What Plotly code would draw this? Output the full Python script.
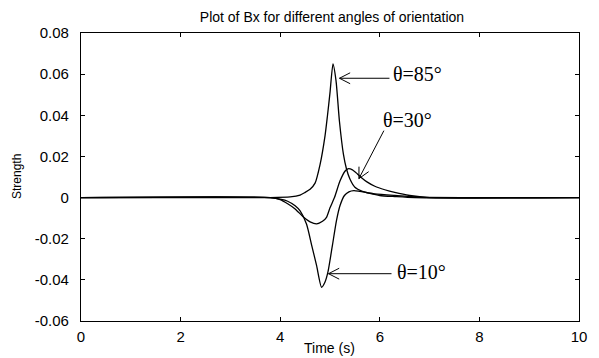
import math
import plotly.graph_objects as go

# ---- data ----
t85 = [0, 3.8, 4.2, 4.4, 4.5, 4.6, 4.7, 4.8, 4.9, 4.95, 5.0, 5.06, 5.12, 5.19, 5.27, 5.33, 5.4, 5.5, 5.65, 5.8, 6.0, 6.3, 6.7, 10]
b85 = [0, 0, 0.0003, 0.0012, 0.0025, 0.004, 0.007, 0.016, 0.03, 0.04, 0.051, 0.065, 0.057, 0.037, 0.021, 0.014, 0.009, 0.005, 0.003, 0.002, 0.001, 0.0005, 0.0, 0]

t30 = [0, 3.8, 4.0, 4.15, 4.3, 4.47, 4.6, 4.73, 4.85, 4.93, 5.0, 5.09, 5.2, 5.3, 5.36, 5.45, 5.55, 5.62, 5.75, 5.9, 6.1, 6.3, 6.6, 7.0, 10]
b30 = [0, 0, -0.001, -0.003, -0.0055, -0.0096, -0.0118, -0.0128, -0.0115, -0.0096, -0.005, 0.0, 0.008, 0.0128, 0.014, 0.0135, 0.0115, 0.0099, 0.0075, 0.0055, 0.0038, 0.0025, 0.001, 0.0, 0]

t10 = [0, 3.8, 4.0, 4.15, 4.3, 4.4, 4.53, 4.63, 4.73, 4.83, 4.9, 4.96, 5.05, 5.13, 5.2, 5.29, 5.38, 5.48, 5.6, 5.9, 6.3, 6.8, 10]
b10 = [0, 0, -0.0008, -0.0018, -0.004, -0.0065, -0.013, -0.023, -0.033, -0.0436, -0.041, -0.036, -0.023, -0.0112, -0.004, 0.001, 0.0028, 0.0034, 0.003, 0.0018, 0.001, 0.0002, 0]

x_ticks = [0, 2, 4, 6, 8, 10]
x_ticktext = ["0", "2", "4", "6", "8", "10"]
y_ticks = [-0.06, -0.04, -0.02, 0, 0.02, 0.04, 0.06, 0.08]
y_ticktext = ["-0.06", "-0.04", "-0.02", "0", "0.02", "0.04", "0.06", "0.08"]

labels = ["θ=85°", "θ=30°", "θ=10°"]
# arrow tip (data), tail offset (pixels, y up), label position (data)
arrow_tips = [(5.19, 0.058), (5.58, 0.0092), (4.97, -0.037)]
arrow_tails = [(50, 0), (25, 48), (63, 0)]
label_pos = [(6.22, 0.0603), (6.03, 0.0375), (6.31, -0.036)]

fig = go.Figure()
for t, b in [(t85, b85), (t30, b30), (t10, b10)]:
    fig.add_trace(go.Scatter(x=t, y=b, mode="lines",
                             line=dict(color="black", width=1.3, shape="spline", smoothing=0.6),
                             showlegend=False, hoverinfo="skip"))

shapes = []
annotations = []
for lab, tip, tail, pos in zip(labels, arrow_tips, arrow_tails, label_pos):
    dx, dy = tail
    L = math.hypot(dx, dy)
    ux, uy = dx / L, dy / L
    arm = 12
    ang = math.radians(27)
    a1 = (arm * (ux * math.cos(ang) - uy * math.sin(ang)), arm * (ux * math.sin(ang) + uy * math.cos(ang)))
    a2 = (arm * (ux * math.cos(-ang) - uy * math.sin(-ang)), arm * (ux * math.sin(-ang) + uy * math.cos(-ang)))
    path = (f"M{dx:.2f},{dy:.2f} L0,0 M{a1[0]:.2f},{a1[1]:.2f} L0,0 L{a2[0]:.2f},{a2[1]:.2f}")
    shapes.append(dict(type="path", xref="x", yref="y", xsizemode="pixel", ysizemode="pixel",
                       xanchor=tip[0], yanchor=tip[1], path=path,
                       line=dict(color="black", width=1)))
    annotations.append(dict(x=pos[0], y=pos[1], xref="x", yref="y", text=lab, showarrow=False,
                            xanchor="left", yanchor="middle",
                            font=dict(family="Liberation Serif", size=20, color="black")))

annotations.append(dict(x=(16 - 81) / 505, y=0.503, xref="paper", yref="paper", text="Strength",
                        textangle=-90, showarrow=False, xanchor="center", yanchor="middle",
                        font=dict(family="Liberation Sans", size=12, color="black")))
annotations.append(dict(x=0.499, y=-0.094, xref="paper", yref="paper", text="Time (s)",
                        showarrow=False, xanchor="center", yanchor="middle",
                        font=dict(family="Liberation Sans", size=14, color="black")))

axis_common = dict(showline=True, linecolor="black", linewidth=1.3, mirror="ticks",
                   ticks="inside", ticklen=4, tickcolor="black", tickwidth=1,
                   showgrid=False, zeroline=False,
                   tickfont=dict(family="Liberation Sans", size=15, color="black"))

fig.update_layout(
    width=599, height=358,
    margin=dict(l=81, r=13, t=33, b=37),
    paper_bgcolor="white", plot_bgcolor="white",
    title=dict(text="Plot of Bx for different angles of orientation", x=332 / 599, xanchor="center",
               y=1 - 17 / 358, yanchor="middle",
               font=dict(family="Liberation Sans", size=14, color="black")),
    xaxis=dict(range=[0, 10], tickvals=x_ticks, ticktext=x_ticktext, ticklabelstandoff=2, **axis_common),
    yaxis=dict(range=[-0.06, 0.08], tickvals=y_ticks, ticktext=y_ticktext, ticklabelstandoff=8, **axis_common),
    shapes=shapes,
    annotations=annotations,
)

fig.write_html("out.html")
